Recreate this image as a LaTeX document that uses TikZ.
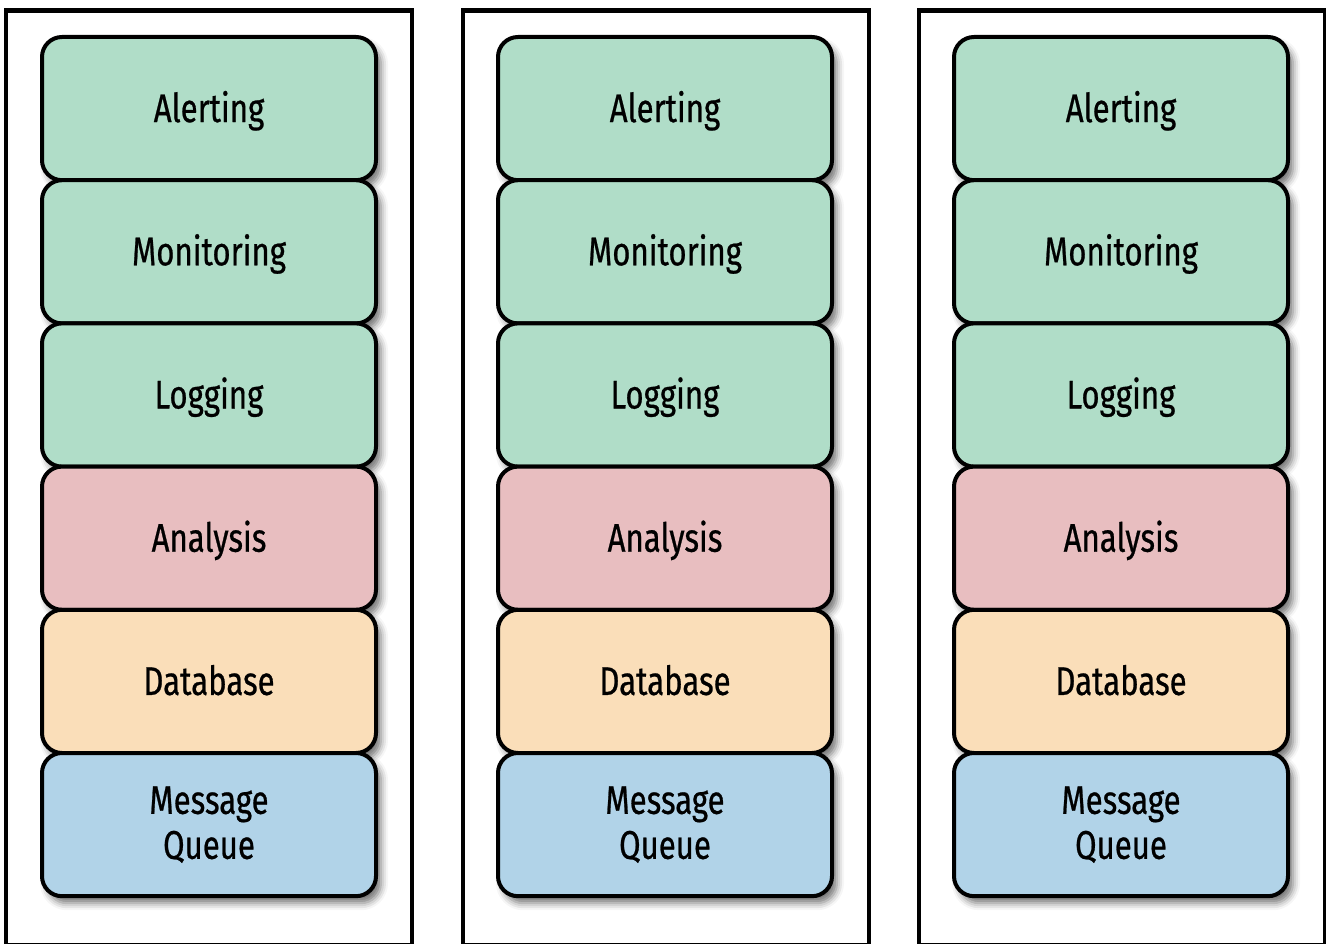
\documentclass[tikz,border=0pt]{standalone}
\usepackage{fontspec}
\setmainfont{Fira Sans}[FakeStretch=0.78,FakeBold=0.6]
\usetikzlibrary{shadows.blur}
\definecolor{greenlayer}{RGB}{176,221,200}
\definecolor{redlayer}{RGB}{232,190,192}
\definecolor{orangelayer}{RGB}{250,222,185}
\definecolor{bluelayer}{RGB}{177,211,232}
\tikzstyle{frame}=[draw=black,line width=4.5pt,minimum width=406pt,minimum height=934.5pt,inner sep=0pt]
\tikzstyle{layer}=[draw=black,line width=4pt,rounded corners=20pt,minimum width=334pt,minimum height=143.2pt,inner sep=0pt,align=center,text=black,font=\fontsize{40}{45}\selectfont,blur shadow={shadow xshift=5pt,shadow yshift=-7pt,shadow blur radius=7pt,shadow opacity=55}]
\tikzstyle{one line}=[text height=34pt,text depth=7pt]

\begin{document}
\begin{tikzpicture}[x=1pt,y=-1pt]
    \useasboundingbox (0,0) rectangle (1326,944);
    % First we draw the frames
    \foreach \col/\xc in {a/209, b/666, c/1122}
        \node[frame] (frame\col) at (\xc,477.75) {};

    % Then the stack of layers in every frame
    \foreach \col/\xc in {a/209, b/665, c/1121}
    {
        \foreach \row/\name/\label/\clr in {0/alert/Alerting/greenlayer, 1/monitor/Monitoring/greenlayer, 2/log/Logging/greenlayer, 3/analysis/Analysis/redlayer, 4/db/Database/orangelayer}
            \node[layer,one line,fill=\clr] (\name\col) at (\xc,108.6+143.2*\row) {\label};
        \node[layer,fill=bluelayer] (mq\col) at (\xc,824.6) {Message\\Queue};
    }
\end{tikzpicture}
\end{document}
